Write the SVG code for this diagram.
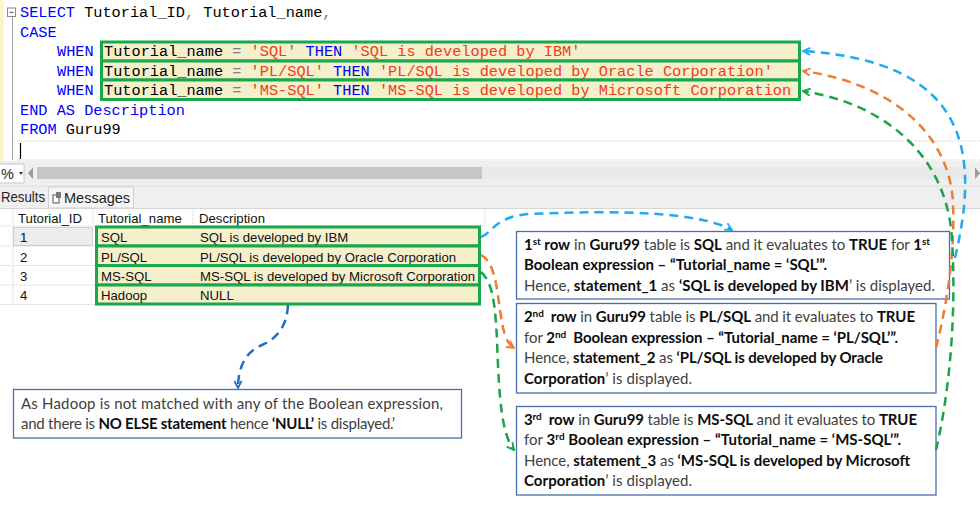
<svg xmlns="http://www.w3.org/2000/svg" width="980" height="513" viewBox="0 0 980 513">
<style>
.code{font-family:"Liberation Mono",monospace;font-size:15.27px;fill:#000;white-space:pre}
.kw{fill:#0000ff}.op{fill:#808080}.str{fill:#ee3d17}
.grid{font-family:"Liberation Sans",Arial,sans-serif;font-size:13.2px;fill:#111}
.ui{font-family:"Liberation Sans",Arial,sans-serif;font-size:14.5px;fill:#222}
.hl{fill:#f5efcc;stroke:#17a84a;stroke-width:3}
.note{fill:#fff;stroke:#4a6eb0;stroke-width:1.3}
.nt{font-family:Lato,"Liberation Sans",sans-serif;font-size:15px;fill:#404040;white-space:pre}
.b{font-weight:bold;fill:#0d0d0d}
.sup{font-size:10px}
.dot{stroke:#cfcfcf;stroke-width:1;stroke-dasharray:1 1;fill:none}
.con{fill:none;stroke-width:2.5;stroke-dasharray:9 6}
</style>
<defs>
<marker id="aBlue" viewBox="0 0 10 10" refX="9" refY="5" markerWidth="9" markerHeight="9" markerUnits="userSpaceOnUse" orient="auto"><path d="M1,1 L9,5 L1,9" fill="none" stroke="#1eaaf0" stroke-width="2"/></marker>
<marker id="aOrange" viewBox="0 0 10 10" refX="9" refY="5" markerWidth="9" markerHeight="9" markerUnits="userSpaceOnUse" orient="auto"><path d="M1,1 L9,5 L1,9" fill="none" stroke="#f07c31" stroke-width="2"/></marker>
<marker id="aGreen" viewBox="0 0 10 10" refX="9" refY="5" markerWidth="9" markerHeight="9" markerUnits="userSpaceOnUse" orient="auto"><path d="M1,1 L9,5 L1,9" fill="none" stroke="#1aa34a" stroke-width="2"/></marker>
<marker id="aDark" viewBox="0 0 10 10" refX="9" refY="5" markerWidth="9" markerHeight="9" markerUnits="userSpaceOnUse" orient="auto"><path d="M1,1 L9,5 L1,9" fill="none" stroke="#1f6fc8" stroke-width="2"/></marker>
</defs>
<rect x="0" y="0" width="980" height="513" fill="#fff"/>

<g id="editor">
<rect x="0" y="0" width="3.5" height="162" fill="#fbf6c8"/>
<rect x="7.5" y="8" width="8" height="8.5" fill="#fff" stroke="#8a8a8a" stroke-width="1"/>
<line x1="9.5" y1="12.25" x2="13.5" y2="12.25" stroke="#444" stroke-width="1"/>
<line x1="12.5" y1="17" x2="12.5" y2="160" stroke="#a0a0a0" stroke-width="1"/>
<line x1="15" y1="141" x2="980" y2="141" class="dot"/>
<line x1="15" y1="160" x2="980" y2="160" class="dot"/>
<line x1="20.5" y1="143" x2="20.5" y2="159" stroke="#000" stroke-width="1.2"/>
<text class="code" x="20" y="17"><tspan class="kw">SELECT</tspan> Tutorial_ID<tspan class="op">,</tspan> Tutorial_name<tspan class="op">,</tspan></text>
<text class="code" x="20" y="36.5"><tspan class="kw">CASE</tspan></text>
</g>

<g id="code-when-1">
<rect class="hl" x="101.5" y="42" width="698" height="19"/>
<text class="code" y="56"><tspan x="57" class="kw">WHEN</tspan><tspan x="104">Tutorial_name </tspan><tspan class="op">=</tspan> <tspan class="str">'SQL'</tspan> <tspan class="kw">THEN</tspan> <tspan class="str">'SQL is developed by IBM'</tspan></text>
</g>
<g id="code-when-2">
<rect class="hl" x="101.5" y="61" width="698" height="19"/>
<text class="code" y="75.5"><tspan x="57" class="kw">WHEN</tspan><tspan x="104">Tutorial_name </tspan><tspan class="op">=</tspan> <tspan class="str">'PL/SQL'</tspan> <tspan class="kw">THEN</tspan> <tspan class="str">'PL/SQL is developed by Oracle Corporation'</tspan></text>
</g>
<g id="code-when-3">
<rect class="hl" x="101.5" y="80" width="698" height="19.5"/>
<text class="code" y="95"><tspan x="57" class="kw">WHEN</tspan><tspan x="104">Tutorial_name </tspan><tspan class="op">=</tspan> <tspan class="str">'MS-SQL'</tspan> <tspan class="kw">THEN</tspan> <tspan class="str">'MS-SQL is developed by Microsoft Corporation</tspan></text>
</g>
<g id="code-end">
<text class="code" x="20" y="114.5"><tspan class="kw">END AS Description</tspan></text>
<text class="code" x="20" y="134"><tspan class="kw">FROM</tspan> Guru99</text>
</g>

<g id="toolbar">
<rect x="0" y="161" width="980" height="48" fill="#efefef"/>
<rect x="-1" y="164" width="25" height="19" fill="#fff" stroke="#c8c8c8" stroke-width="1"/>
<text class="ui" x="1" y="178.5">%</text>
<path d="M19,172 L23,172 L21,175 Z" fill="#333"/>
<path d="M33,167.5 L33,179 L28,173.25 Z" fill="#9a9a9a"/>
<rect x="37" y="167" width="445" height="12" fill="#c6c6c6"/>
<rect x="482" y="167" width="488" height="12" fill="#e9e9e9"/>
<path d="M975,167.5 L975,179 L980,173.25 Z" fill="#9a9a9a"/>
<line x1="0" y1="186" x2="980" y2="186" stroke="#dcdcdc" stroke-width="1"/>
<text class="ui" x="1" y="202" textLength="44" lengthAdjust="spacingAndGlyphs">Results</text>
<rect x="48.5" y="187" width="85" height="21" fill="#f5f5f5" stroke="#cfcfcf" stroke-width="1"/>
<rect x="53" y="195" width="6" height="8" fill="#fff" stroke="#555" stroke-width="1"/>
<rect x="56" y="192" width="5" height="6" fill="#7a7a7a"/>
<text class="ui" x="64" y="203">Messages</text>
<line x1="0" y1="208.5" x2="980" y2="208.5" stroke="#d6d6d6" stroke-width="1"/>
</g>

<g id="grid">
<rect x="0" y="209" width="980" height="110" fill="#fff"/>
<line x1="13" y1="209" x2="13" y2="304" class="dot"/>
<line x1="93" y1="209" x2="93" y2="226" class="dot"/>
<line x1="193" y1="209" x2="193" y2="226" class="dot"/>
<line x1="485" y1="209" x2="485" y2="226" class="dot"/>
<line x1="0" y1="226" x2="485" y2="226" class="dot"/>
<line x1="0" y1="246" x2="96" y2="246" class="dot"/>
<line x1="0" y1="265.5" x2="96" y2="265.5" class="dot"/>
<line x1="0" y1="285" x2="96" y2="285" class="dot"/>
<line x1="0" y1="304.5" x2="96" y2="304.5" class="dot"/>
<rect x="13.5" y="227.5" width="79" height="18" fill="#ececec" stroke="#9a9a9a" stroke-width="0.8" stroke-dasharray="1 1"/>
<text class="grid" x="18" y="223">Tutorial_ID</text>
<text class="grid" x="98" y="223">Tutorial_name</text>
<text class="grid" x="199" y="223">Description</text>
<text class="grid" x="20" y="242">1</text>
<text class="grid" x="20" y="261.5">2</text>
<text class="grid" x="20" y="281">3</text>
<text class="grid" x="20" y="300">4</text>
</g>

<g id="row-1">
<rect class="hl" x="96.5" y="227" width="383" height="19"/>
<text class="grid" x="101" y="242">SQL</text>
<text class="grid" x="200" y="242">SQL is developed by IBM</text>
</g>
<g id="row-2">
<rect class="hl" x="96.5" y="246" width="383" height="19.5"/>
<text class="grid" x="101" y="261.5">PL/SQL</text>
<text class="grid" x="200" y="261.5">PL/SQL is developed by Oracle Corporation</text>
</g>
<g id="row-3">
<rect class="hl" x="96.5" y="265.5" width="383" height="19.5"/>
<text class="grid" x="101" y="281">MS-SQL</text>
<text class="grid" x="200" y="281">MS-SQL is developed by Microsoft Corporation</text>
</g>
<g id="row-4">
<rect class="hl" x="96.5" y="285" width="383" height="19"/>
<text class="grid" x="101" y="300">Hadoop</text>
<text class="grid" x="200" y="300">NULL</text>
</g>

<g id="note-hadoop">
<rect class="note" x="13.5" y="389.5" width="448" height="48.5"/>
<text class="nt" x="21" y="408.5" textLength="422">As Hadoop is not matched with any of the Boolean expression,</text>
<text class="nt" x="21" y="428.5" textLength="374">and there is <tspan class="b">NO ELSE statement</tspan> hence <tspan class="b">‘NULL’</tspan> is displayed.’</text>
</g>

<g id="note-row1">
<rect class="note" x="516.5" y="231.5" width="433" height="67.5"/>
<text class="nt" x="524" y="249.5" textLength="406"><tspan class="b">1<tspan class="sup" dy="-5">st</tspan></tspan><tspan class="b" dy="5"> row</tspan> in <tspan class="b">Guru99</tspan> table is <tspan class="b">SQL</tspan> and it evaluates to <tspan class="b">TRUE</tspan> for <tspan class="b">1<tspan class="sup" dy="-5">st</tspan></tspan></text>
<text class="nt" x="524" y="269.5" textLength="303"><tspan class="b">Boolean expression – “Tutorial_name = ‘SQL’”.</tspan></text>
<text class="nt" x="524" y="290.5" textLength="411">Hence, <tspan class="b">statement_1</tspan> as <tspan class="b">‘SQL is developed by IBM</tspan>’ is displayed.</text>
</g>

<g id="note-row2">
<rect class="note" x="516.5" y="303.5" width="419.5" height="89.5"/>
<text class="nt" x="524" y="321.5" textLength="391"><tspan class="b">2<tspan class="sup" dy="-5">nd</tspan></tspan><tspan class="b" dy="5">  row</tspan> in <tspan class="b">Guru99</tspan> table is <tspan class="b">PL/SQL</tspan> and it evaluates to <tspan class="b">TRUE</tspan></text>
<text class="nt" x="524" y="342.5" textLength="374">for <tspan class="b">2<tspan class="sup" dy="-5">nd</tspan></tspan><tspan class="b" dy="5">  Boolean expression – “Tutorial_name = ‘PL/SQL’”.</tspan></text>
<text class="nt" x="524" y="363" textLength="359">Hence, <tspan class="b">statement_2</tspan> as <tspan class="b">‘PL/SQL is developed by Oracle</tspan></text>
<text class="nt" x="524" y="383.5" textLength="168"><tspan class="b">Corporation</tspan>’ is displayed.</text>
</g>

<g id="note-row3">
<rect class="note" x="516.5" y="406.5" width="419.5" height="88.5"/>
<text class="nt" x="524" y="425" textLength="393"><tspan class="b">3<tspan class="sup" dy="-5">rd</tspan></tspan><tspan class="b" dy="5">  row</tspan> in <tspan class="b">Guru99</tspan> table is <tspan class="b">MS-SQL</tspan> and it evaluates to <tspan class="b">TRUE</tspan></text>
<text class="nt" x="524" y="445" textLength="377">for <tspan class="b">3<tspan class="sup" dy="-5">rd</tspan></tspan><tspan class="b" dy="5"> Boolean expression – “Tutorial_name = ‘MS-SQL’”.</tspan></text>
<text class="nt" x="524" y="465.5" textLength="386">Hence, <tspan class="b">statement_3</tspan> as <tspan class="b">‘MS-SQL is developed by Microsoft</tspan></text>
<text class="nt" x="524" y="485.5" textLength="168"><tspan class="b">Corporation</tspan>’ is displayed.</text>
</g>

<g id="connectors">
<path class="con" stroke="#1eaaf0" marker-end="url(#aBlue)" d="M955,258 C978,160 975,62 803,51"/>
<path class="con" stroke="#f07c31" marker-end="url(#aOrange)" d="M936,348 C948,300 955,250 953,203 C950,140 900,85 803,71"/>
<path class="con" stroke="#1aa34a" marker-end="url(#aGreen)" d="M936,450 C948,400 957,320 952,240 C948,160 890,105 803,91"/>
<path class="con" stroke="#1eaaf0" marker-end="url(#aBlue)" d="M481,237 C492,234 494,216 530,214 C620,210 700,212 732,230"/>
<path class="con" stroke="#f07c31" marker-end="url(#aOrange)" d="M481,255 C495,262 497,290 500,310 C503,330 505,342 514,348"/>
<path class="con" stroke="#1aa34a" marker-end="url(#aGreen)" d="M481,272 C492,282 495,300 497,340 C499,400 502,435 514,450"/>
<path class="con" stroke="#1f6fc8" marker-end="url(#aDark)" d="M288,305 C287,325 278,338 262,345 C245,352 238,368 238,388"/>
</g>
</svg>
